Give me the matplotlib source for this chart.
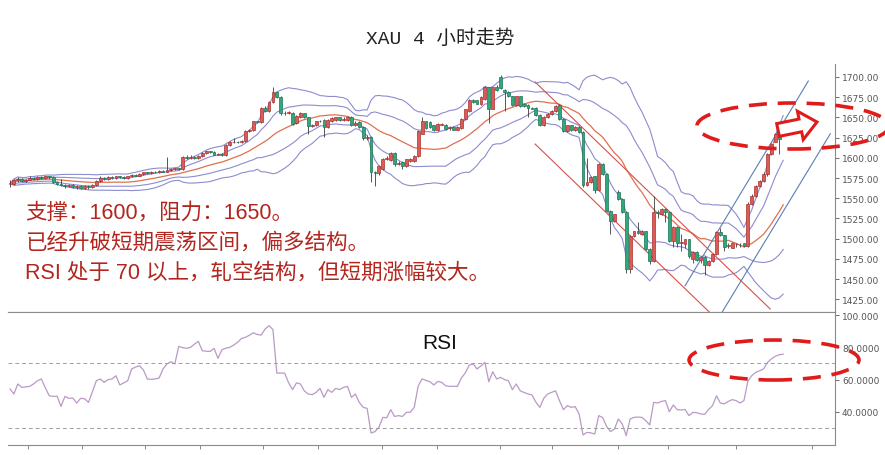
import matplotlib
matplotlib.use('Agg')
import matplotlib.pyplot as plt
from matplotlib.patches import Ellipse, Polygon
import numpy as np
import pandas as pd

# 4h candles (one value per candle)
opens = [1567, 1568, 1572, 1574, 1571, 1573, 1575, 1574, 1576, 1575,
         1577, 1576, 1570, 1567, 1566, 1565, 1566, 1564, 1565, 1563,
         1565, 1564, 1566, 1571, 1575, 1574, 1576, 1575, 1577, 1576,
         1575, 1577, 1579, 1578, 1580, 1582, 1581, 1583, 1582, 1584,
         1583, 1585, 1586, 1587, 1586, 1601, 1600, 1601, 1600, 1602,
         1606, 1608, 1607, 1604, 1605, 1603, 1616, 1619, 1620, 1619,
         1621, 1633, 1634, 1645, 1644, 1662, 1658, 1669, 1681, 1675,
         1655, 1656, 1656, 1643, 1650, 1655, 1650, 1639, 1640, 1645,
         1647, 1638, 1645, 1647, 1650, 1647, 1647, 1651, 1640, 1644,
         1638, 1624, 1626, 1583, 1581, 1586, 1599, 1597, 1606, 1592,
         1595, 1590, 1596, 1596, 1602, 1630, 1645, 1644, 1640, 1634,
         1641, 1641, 1637, 1638, 1635, 1637, 1648, 1658, 1672, 1671,
         1666, 1673, 1687, 1661, 1688, 1700, 1684, 1682, 1676, 1665,
         1676, 1667, 1665, 1662, 1662, 1653, 1640, 1650, 1654, 1658,
         1665, 1648, 1633, 1640, 1634, 1638, 1632, 1566, 1570, 1577,
         1560, 1592, 1580, 1534, 1522, 1558, 1549, 1533, 1462, 1503,
         1509, 1506, 1509, 1487, 1472, 1533, 1530, 1537, 1533, 1497,
         1514, 1495, 1493, 1499, 1475, 1484, 1473, 1477, 1467, 1472,
         1481, 1508, 1504, 1491, 1489, 1493, 1492, 1494, 1491, 1543,
         1553, 1565, 1571, 1580, 1605, 1620, 1633, 1630]
closes = [1568, 1572, 1574, 1571, 1573, 1575, 1574, 1576, 1575, 1577,
          1576, 1570, 1567, 1566, 1565, 1566, 1564, 1565, 1563, 1565,
          1564, 1566, 1571, 1575, 1574, 1576, 1575, 1577, 1576, 1575,
          1577, 1579, 1578, 1580, 1582, 1581, 1583, 1582, 1584, 1583,
          1585, 1586, 1587, 1586, 1601, 1600, 1601, 1600, 1602, 1606,
          1608, 1607, 1604, 1605, 1603, 1616, 1619, 1620, 1619, 1621,
          1633, 1634, 1645, 1644, 1662, 1658, 1669, 1681, 1675, 1655,
          1656, 1656, 1642, 1652, 1656, 1650, 1639, 1640, 1645, 1645,
          1638, 1647, 1649, 1650, 1647, 1648, 1650, 1640, 1643, 1638,
          1624, 1626, 1583, 1581, 1590, 1599, 1600, 1606, 1592, 1594,
          1590, 1598, 1599, 1602, 1633, 1645, 1637, 1638, 1634, 1642,
          1641, 1636, 1637, 1635, 1638, 1648, 1660, 1672, 1669, 1667,
          1675, 1688, 1661, 1687, 1684, 1686, 1682, 1676, 1665, 1676,
          1664, 1664, 1662, 1661, 1653, 1640, 1651, 1654, 1658, 1664,
          1648, 1633, 1640, 1634, 1638, 1632, 1566, 1570, 1576, 1560,
          1592, 1580, 1534, 1522, 1530, 1549, 1533, 1462, 1503, 1509,
          1507, 1509, 1487, 1472, 1533, 1532, 1537, 1533, 1497, 1514,
          1494, 1495, 1499, 1478, 1484, 1473, 1477, 1467, 1472, 1481,
          1508, 1504, 1490, 1491, 1495, 1493, 1492, 1491, 1543, 1553,
          1565, 1571, 1580, 1605, 1617, 1629, 1623, 1632]
highs = [1572, 1574, 1576, 1575, 1574, 1577, 1576, 1577, 1578, 1578,
         1578, 1577, 1571, 1574, 1567, 1567, 1567, 1566, 1566, 1566,
         1566, 1568, 1572, 1577, 1576, 1577, 1577, 1578, 1578, 1577,
         1578, 1580, 1580, 1581, 1583, 1583, 1584, 1584, 1585, 1585,
         1601, 1588, 1588, 1588, 1602, 1603, 1603, 1602, 1604, 1607,
         1609, 1609, 1608, 1606, 1606, 1617, 1621, 1624, 1621, 1622,
         1634, 1636, 1646, 1646, 1663, 1664, 1670, 1688, 1682, 1676,
         1658, 1658, 1657, 1653, 1657, 1656, 1651, 1642, 1646, 1647,
         1648, 1648, 1650, 1651, 1651, 1650, 1652, 1652, 1645, 1645,
         1639, 1628, 1627, 1584, 1591, 1600, 1602, 1607, 1607, 1596,
         1596, 1599, 1600, 1603, 1634, 1650, 1646, 1645, 1641, 1643,
         1643, 1642, 1639, 1639, 1639, 1649, 1661, 1673, 1673, 1672,
         1676, 1689, 1688, 1688, 1690, 1703, 1685, 1683, 1677, 1677,
         1677, 1668, 1666, 1663, 1663, 1654, 1652, 1655, 1659, 1665,
         1666, 1649, 1641, 1641, 1639, 1639, 1633, 1600, 1577, 1578,
         1593, 1593, 1581, 1535, 1531, 1560, 1550, 1534, 1504, 1510,
         1520, 1511, 1510, 1488, 1553, 1535, 1538, 1538, 1534, 1515,
         1515, 1506, 1500, 1500, 1485, 1485, 1478, 1478, 1473, 1482,
         1509, 1513, 1505, 1494, 1496, 1495, 1494, 1495, 1545, 1555,
         1566, 1573, 1582, 1606, 1618, 1631, 1634, 1634]
lows = [1564, 1566, 1570, 1570, 1570, 1572, 1573, 1573, 1574, 1574,
        1574, 1569, 1566, 1565, 1563, 1564, 1563, 1562, 1562, 1562,
        1562, 1563, 1565, 1570, 1573, 1573, 1574, 1574, 1575, 1574,
        1574, 1576, 1577, 1577, 1579, 1580, 1580, 1581, 1581, 1582,
        1582, 1584, 1585, 1585, 1585, 1599, 1599, 1599, 1599, 1601,
        1605, 1606, 1603, 1603, 1602, 1602, 1615, 1618, 1618, 1618,
        1620, 1632, 1633, 1643, 1643, 1657, 1657, 1668, 1674, 1653,
        1653, 1654, 1640, 1642, 1649, 1649, 1629, 1638, 1639, 1644,
        1626, 1637, 1644, 1646, 1646, 1646, 1646, 1639, 1639, 1637,
        1622, 1622, 1570, 1565, 1579, 1585, 1597, 1596, 1590, 1591,
        1586, 1589, 1595, 1595, 1601, 1629, 1636, 1637, 1633, 1633,
        1640, 1635, 1635, 1634, 1634, 1636, 1647, 1657, 1668, 1666,
        1665, 1672, 1643, 1660, 1683, 1685, 1658, 1675, 1664, 1664,
        1663, 1663, 1650, 1660, 1652, 1639, 1639, 1649, 1653, 1657,
        1647, 1632, 1632, 1633, 1633, 1631, 1564, 1565, 1569, 1557,
        1559, 1579, 1533, 1506, 1521, 1548, 1532, 1458, 1458, 1502,
        1506, 1505, 1486, 1468, 1471, 1525, 1529, 1520, 1496, 1490,
        1490, 1485, 1488, 1476, 1470, 1472, 1470, 1455, 1466, 1471,
        1480, 1503, 1485, 1489, 1488, 1490, 1490, 1490, 1490, 1542,
        1552, 1564, 1570, 1578, 1604, 1619, 1605, 1629]

rsi = [54.2, 51.1, 57.3, 55.2, 55.5, 55.8, 57.3, 59.3, 60.4, 55.0,
       50.0, 49.6, 49.8, 43.4, 49.6, 48.4, 48.6, 45.5, 48.4, 48.2,
       45.9, 52.5, 59.3, 60.4, 58.3, 60.0, 60.4, 62.4, 56.7, 58.0,
       59.3, 66.6, 67.8, 68.6, 66.0, 60.4, 60.2, 60.4, 61.0, 66.6,
       69.7, 71.1, 69.7, 80.6, 79.8, 79.4, 80.0, 82.0, 83.7, 77.9,
       77.6, 77.5, 79.4, 73.2, 78.5, 79.5, 80.0, 81.4, 83.1, 85.5,
       86.2, 87.5, 89.0, 88.0, 87.6, 91.3, 93.4, 91.0, 64.0, 64.1,
       64.0, 58.0, 53.8, 58.0, 57.3, 53.0, 51.1, 50.7, 52.1, 54.6,
       49.0, 53.8, 52.1, 54.6, 53.8, 55.2, 55.8, 49.0, 51.1, 45.9,
       42.8, 42.2, 26.9, 27.8, 30.5, 36.6, 36.4, 41.4, 37.2, 37.7,
       37.2, 39.7, 39.8, 42.8, 56.0, 60.4, 59.5, 58.7, 56.7, 58.9,
       58.3, 56.2, 55.8, 55.9, 55.8, 61.0, 64.1, 69.0, 69.7, 66.6,
       68.5, 70.7, 58.7, 64.9, 60.4, 61.4, 60.0, 59.3, 53.8, 57.3,
       53.1, 52.0, 51.1, 50.5, 46.0, 42.8, 48.4, 51.1, 52.1, 53.1,
       47.0, 41.4, 43.9, 42.8, 43.3, 38.7, 25.7, 27.3, 27.0, 26.3,
       37.7, 36.5, 31.1, 27.8, 29.4, 35.6, 32.5, 25.3, 35.6, 36.6,
       36.8, 36.6, 34.6, 31.9, 45.9, 45.5, 46.5, 47.0, 40.1, 44.3,
       41.4, 41.2, 41.5, 37.7, 39.7, 39.5, 38.7, 38.5, 41.5, 43.9,
       50.0, 45.5, 45.0, 46.5, 47.6, 47.0, 45.5, 47.0, 59.0, 62.5,
       64.5, 65.5, 66.6, 70.7, 72.8, 74.5, 75.4, 75.8]

price_ticks = [1425, 1450, 1475, 1500, 1525, 1550, 1575, 1600, 1625, 1650, 1675, 1700]
rsi_ticks = [40, 60, 80, 100]
rsi_labels = ['40.0000', '60.0000', '80.0000', '100.000']
rsi_levels = [70, 30]
date_ticks = [4.6, 18.3, 34.4, 48.4, 64.5, 78.5, 94.8, 108.8, 124.9, 138.1, 154.9, 167.7, 185.0, 204.4]

# hand drawn channels: (candle index, price) end points
red_channel = [[(133.8, 1693.8), (193.7, 1412.9)],
               [(133.8, 1617.0), (178.1, 1409.5)]]
blue_channel = [[(172.0, 1441.7), (203.4, 1695.0)],
                [(181.5, 1409.5), (209.0, 1629.7)]]

title = 'XAU 4 小时走势'
notes = ['支撑：1600，阻力：1650。',
         '已经升破短期震荡区间，偏多结构。',
         'RSI 处于 70 以上，轧空结构，但短期涨幅较大。']

W, H = 885, 456
fig = plt.figure(figsize=(W / 100, H / 100), dpi=100)
ax = fig.add_axes([0.00904, 0.3136, 0.93446, 0.5439])
ax_r = fig.add_axes([0.00904, 0.0230, 0.93446, 0.2906])

idx = np.arange(len(closes))
o = np.array(opens, float)
c = np.array(closes, float)
h = np.array(highs, float)
l = np.array(lows, float)
up = c >= o

# bollinger bands (20, 1 and 2 sigma)
s = pd.Series(c)
ma = s.rolling(20, min_periods=1).mean()
sd = s.rolling(20, min_periods=1).std(ddof=0)
band_col = '#8c8cd0'
for k in (1, 2):
    ax.plot(idx, ma + k * sd, color=band_col, lw=0.8, zorder=1)
    ax.plot(idx, ma - k * sd, color=band_col, lw=0.8, zorder=1)
ax.plot(idx, ma, color='#e0704f', lw=0.9, zorder=1)

for seg in red_channel:
    (x0, y0), (x1, y1) = seg
    ax.plot([x0, x1], [y0, y1], color='#d8504a', lw=0.8, zorder=1)
for seg in blue_channel:
    (x0, y0), (x1, y1) = seg
    ax.plot([x0, x1], [y0, y1], color='#5a7fb5', lw=0.8, zorder=1)

ax.vlines(idx, l, h, color='#3a3a3a', lw=0.6, zorder=2)
body = np.maximum(np.abs(c - o), 0.6)
ax.bar(idx[up], body[up], bottom=np.minimum(o, c)[up], width=0.72,
       color='#dc5c55', edgecolor='#a83030', lw=0.5, zorder=3)
ax.bar(idx[~up], body[~up], bottom=np.minimum(o, c)[~up], width=0.72,
       color='#2fa87c', edgecolor='#1d7454', lw=0.5, zorder=3)

xlim = (-0.5, 210.2)
ax.set_xlim(*xlim)
ax.set_ylim(1409.2, 1716.1)
ax.yaxis.tick_right()
ax.set_yticks(price_ticks)
ax.set_yticklabels([f'{v:.2f}' for v in price_ticks])
ax.tick_params(axis='y', labelsize=6.5, colors='#555555', length=3, pad=2, width=0.6)
ax.tick_params(axis='x', bottom=False, labelbottom=False)
for side in ['left', 'top']:
    ax.spines[side].set_visible(False)
for side in ['right', 'bottom']:
    ax.spines[side].set_color('#8a8a8a')
    ax.spines[side].set_linewidth(0.8)

# rsi panel
ax_r.plot(idx, rsi, color='#b99ac4', lw=0.9)
for lev in rsi_levels:
    ax_r.axhline(lev, color='#a0a0a0', lw=0.7, ls=(0, (4, 3)))
ax_r.set_xlim(*xlim)
ax_r.set_ylim(19.8, 101.9)
ax_r.yaxis.tick_right()
ax_r.set_yticks(rsi_ticks)
ax_r.set_yticklabels(rsi_labels)
ax_r.tick_params(axis='y', labelsize=6.5, colors='#555555', length=3, pad=2, width=0.6)
ax_r.set_xticks(date_ticks)
ax_r.tick_params(axis='x', labelbottom=False, length=3, width=0.6, colors='#777777')
ax_r.spines['left'].set_visible(False)
for side in ['right', 'bottom', 'top']:
    ax_r.spines[side].set_color('#8a8a8a')
    ax_r.spines[side].set_linewidth(0.8)
fig.text(0.497, 0.2478, 'RSI', ha='center', va='center', fontsize=15,
         family=['Liberation Sans', 'DejaVu Sans'], color='#111111')

fig.text(0.497, 0.915, title, ha='center', va='center', fontsize=14,
         family=['Liberation Mono', 'Noto Sans CJK SC'], color='#222222')

for k, line in enumerate(notes):
    fig.text(0.0282, 0.5329 - k * 0.0658, line, ha='left', va='center', fontsize=15.5,
             family=['Liberation Sans', 'Noto Sans CJK SC'], color='#b3261e')

# red dashed highlight ellipses
for cx, cy, w, hh in [(0.896, 0.7215, 0.217, 0.1009), (0.8746, 0.2083, 0.192, 0.0877)]:
    fig.add_artist(Ellipse((cx, cy), w, hh, transform=fig.transFigure, fill=False,
                           edgecolor='#e01b1b', lw=2.6, ls=(0, (5, 3)), zorder=10))

# hollow arrow pointing right (pixel sizes, converted to figure fractions)
tail = np.array([778.0, H - 131.0])
tip = np.array([817.0, H - 123.0])
d = (tip - tail) / np.hypot(*(tip - tail))
n = np.array([-d[1], d[0]])
L = np.hypot(*(tip - tail))
shape = [(0, -6.5), (L - 17, -6.5), (L - 17, -14.5), (L, 0), (L - 17, 14.5), (L - 17, 6.5), (0, 6.5)]
pts = [tail + u * d + v * n for u, v in shape]
pts = [(p[0] / W, p[1] / H) for p in pts]
fig.add_artist(Polygon(pts, closed=True, transform=fig.transFigure, fc='white',
                       ec='#e01b1b', lw=2.2, zorder=11))

fig.savefig('out.png', dpi=100, facecolor='white')
